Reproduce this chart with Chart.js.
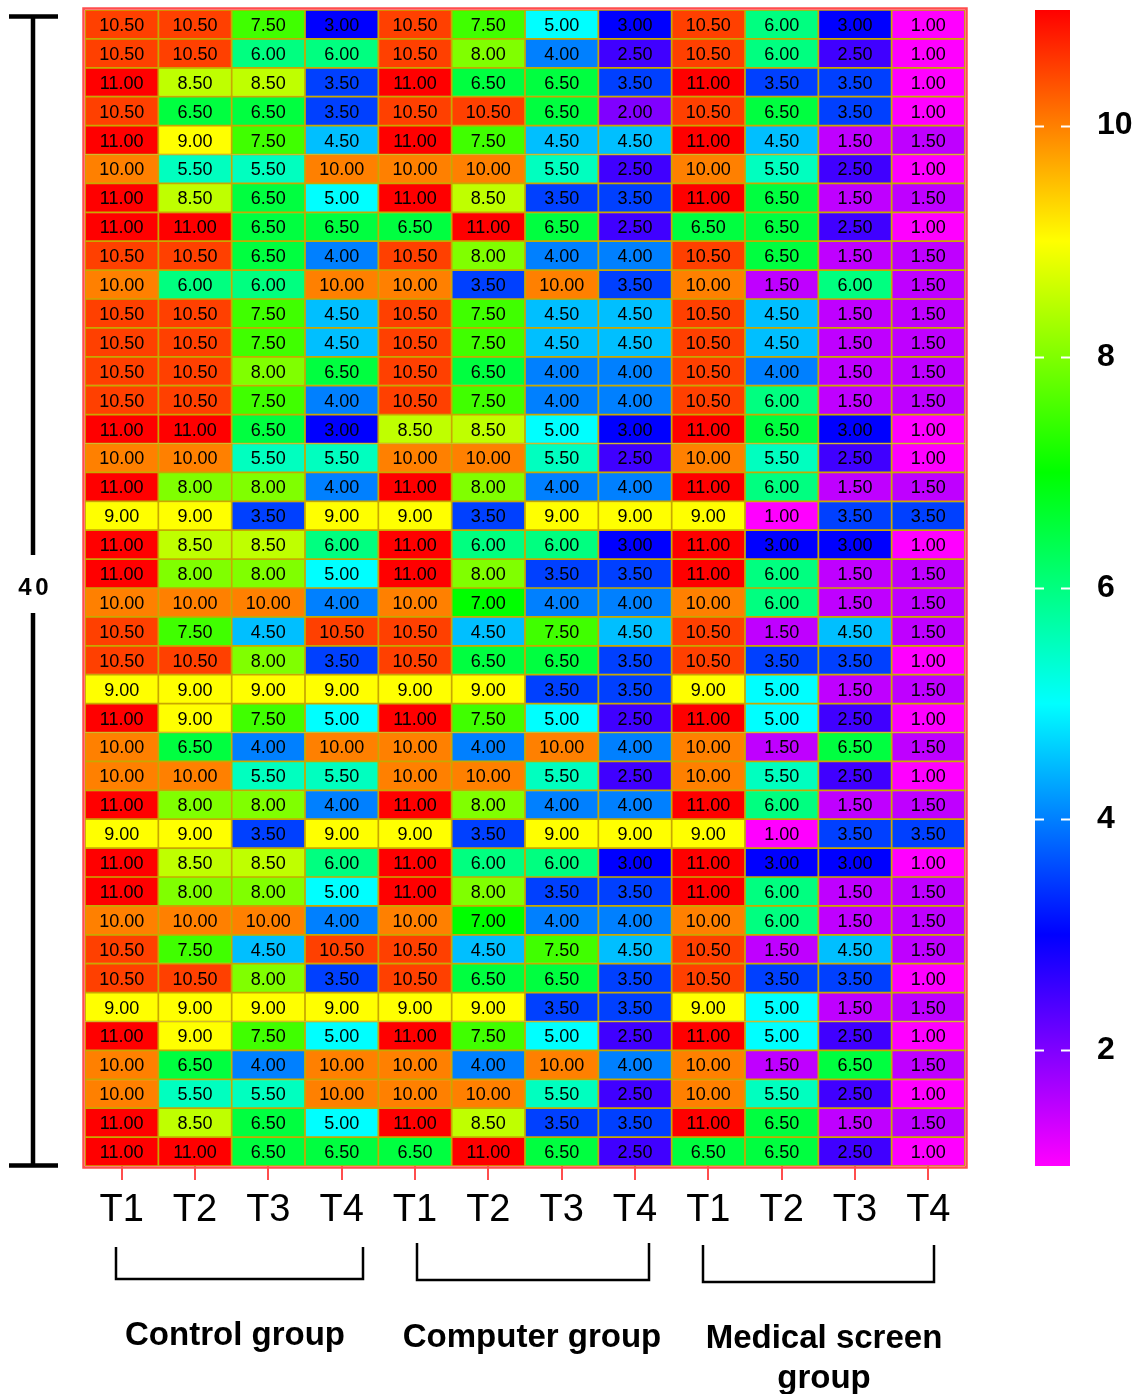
<!DOCTYPE html>
<html>
<head>
<meta charset="utf-8">
<script src="https://cdn.jsdelivr.net/npm/chart.js@4.4.1/dist/chart.umd.min.js"></script>
<style>
html, body { margin: 0; background: #fff; }
#wrap { width: 1135px; height: 1394px; position: relative; }
</style>
</head>
<body>
<div id="wrap"><canvas id="heatChart"></canvas></div>
<script>
var columns = ['T1', 'T2', 'T3', 'T4', 'T1', 'T2', 'T3', 'T4', 'T1', 'T2', 'T3', 'T4'];
var groups = ['Control group', 'Computer group', 'Medical screen group'];
var sampleLabel = '40';
var scaleTicks = [2, 4, 6, 8, 10];
var scaleMin = 1;
var scaleMax = 11;

// one row per subject, 12 cells (3 groups x T1..T4)
var rows = [
  [10.5, 10.5, 7.5, 3.0, 10.5, 7.5, 5.0, 3.0, 10.5, 6.0, 3.0, 1.0],
  [10.5, 10.5, 6.0, 6.0, 10.5, 8.0, 4.0, 2.5, 10.5, 6.0, 2.5, 1.0],
  [11.0, 8.5, 8.5, 3.5, 11.0, 6.5, 6.5, 3.5, 11.0, 3.5, 3.5, 1.0],
  [10.5, 6.5, 6.5, 3.5, 10.5, 10.5, 6.5, 2.0, 10.5, 6.5, 3.5, 1.0],
  [11.0, 9.0, 7.5, 4.5, 11.0, 7.5, 4.5, 4.5, 11.0, 4.5, 1.5, 1.5],
  [10.0, 5.5, 5.5, 10.0, 10.0, 10.0, 5.5, 2.5, 10.0, 5.5, 2.5, 1.0],
  [11.0, 8.5, 6.5, 5.0, 11.0, 8.5, 3.5, 3.5, 11.0, 6.5, 1.5, 1.5],
  [11.0, 11.0, 6.5, 6.5, 6.5, 11.0, 6.5, 2.5, 6.5, 6.5, 2.5, 1.0],
  [10.5, 10.5, 6.5, 4.0, 10.5, 8.0, 4.0, 4.0, 10.5, 6.5, 1.5, 1.5],
  [10.0, 6.0, 6.0, 10.0, 10.0, 3.5, 10.0, 3.5, 10.0, 1.5, 6.0, 1.5],
  [10.5, 10.5, 7.5, 4.5, 10.5, 7.5, 4.5, 4.5, 10.5, 4.5, 1.5, 1.5],
  [10.5, 10.5, 7.5, 4.5, 10.5, 7.5, 4.5, 4.5, 10.5, 4.5, 1.5, 1.5],
  [10.5, 10.5, 8.0, 6.5, 10.5, 6.5, 4.0, 4.0, 10.5, 4.0, 1.5, 1.5],
  [10.5, 10.5, 7.5, 4.0, 10.5, 7.5, 4.0, 4.0, 10.5, 6.0, 1.5, 1.5],
  [11.0, 11.0, 6.5, 3.0, 8.5, 8.5, 5.0, 3.0, 11.0, 6.5, 3.0, 1.0],
  [10.0, 10.0, 5.5, 5.5, 10.0, 10.0, 5.5, 2.5, 10.0, 5.5, 2.5, 1.0],
  [11.0, 8.0, 8.0, 4.0, 11.0, 8.0, 4.0, 4.0, 11.0, 6.0, 1.5, 1.5],
  [9.0, 9.0, 3.5, 9.0, 9.0, 3.5, 9.0, 9.0, 9.0, 1.0, 3.5, 3.5],
  [11.0, 8.5, 8.5, 6.0, 11.0, 6.0, 6.0, 3.0, 11.0, 3.0, 3.0, 1.0],
  [11.0, 8.0, 8.0, 5.0, 11.0, 8.0, 3.5, 3.5, 11.0, 6.0, 1.5, 1.5],
  [10.0, 10.0, 10.0, 4.0, 10.0, 7.0, 4.0, 4.0, 10.0, 6.0, 1.5, 1.5],
  [10.5, 7.5, 4.5, 10.5, 10.5, 4.5, 7.5, 4.5, 10.5, 1.5, 4.5, 1.5],
  [10.5, 10.5, 8.0, 3.5, 10.5, 6.5, 6.5, 3.5, 10.5, 3.5, 3.5, 1.0],
  [9.0, 9.0, 9.0, 9.0, 9.0, 9.0, 3.5, 3.5, 9.0, 5.0, 1.5, 1.5],
  [11.0, 9.0, 7.5, 5.0, 11.0, 7.5, 5.0, 2.5, 11.0, 5.0, 2.5, 1.0],
  [10.0, 6.5, 4.0, 10.0, 10.0, 4.0, 10.0, 4.0, 10.0, 1.5, 6.5, 1.5],
  [10.0, 10.0, 5.5, 5.5, 10.0, 10.0, 5.5, 2.5, 10.0, 5.5, 2.5, 1.0],
  [11.0, 8.0, 8.0, 4.0, 11.0, 8.0, 4.0, 4.0, 11.0, 6.0, 1.5, 1.5],
  [9.0, 9.0, 3.5, 9.0, 9.0, 3.5, 9.0, 9.0, 9.0, 1.0, 3.5, 3.5],
  [11.0, 8.5, 8.5, 6.0, 11.0, 6.0, 6.0, 3.0, 11.0, 3.0, 3.0, 1.0],
  [11.0, 8.0, 8.0, 5.0, 11.0, 8.0, 3.5, 3.5, 11.0, 6.0, 1.5, 1.5],
  [10.0, 10.0, 10.0, 4.0, 10.0, 7.0, 4.0, 4.0, 10.0, 6.0, 1.5, 1.5],
  [10.5, 7.5, 4.5, 10.5, 10.5, 4.5, 7.5, 4.5, 10.5, 1.5, 4.5, 1.5],
  [10.5, 10.5, 8.0, 3.5, 10.5, 6.5, 6.5, 3.5, 10.5, 3.5, 3.5, 1.0],
  [9.0, 9.0, 9.0, 9.0, 9.0, 9.0, 3.5, 3.5, 9.0, 5.0, 1.5, 1.5],
  [11.0, 9.0, 7.5, 5.0, 11.0, 7.5, 5.0, 2.5, 11.0, 5.0, 2.5, 1.0],
  [10.0, 6.5, 4.0, 10.0, 10.0, 4.0, 10.0, 4.0, 10.0, 1.5, 6.5, 1.5],
  [10.0, 5.5, 5.5, 10.0, 10.0, 10.0, 5.5, 2.5, 10.0, 5.5, 2.5, 1.0],
  [11.0, 8.5, 6.5, 5.0, 11.0, 8.5, 3.5, 3.5, 11.0, 6.5, 1.5, 1.5],
  [11.0, 11.0, 6.5, 6.5, 6.5, 11.0, 6.5, 2.5, 6.5, 6.5, 2.5, 1.0]
];

// rainbow: 11 = red ... 1 = magenta
function heatColor(v) {
  var hue = (scaleMax - v) / (scaleMax - scaleMin) * 300;
  return 'hsl(' + hue + ',100%,50%)';
}

var datasets = rows.map(function (r, i) {
  return {
    label: 'Row ' + (i + 1),
    data: r.map(function () { return [i, i + 1]; }),
    values: r,
    backgroundColor: r.map(heatColor),
    borderColor: '#c8a800',
    borderWidth: 1.2,
    borderSkipped: false,
    grouped: false,
    barPercentage: 1,
    categoryPercentage: 1
  };
});

var heatPlugin = {
  id: 'heatExtras',
  afterDatasetsDraw: function (chart) {
    var ctx = chart.ctx;
    var area = chart.chartArea;
    ctx.save();
    ctx.font = '18px "Liberation Sans", Arial, sans-serif';
    ctx.fillStyle = '#000';
    ctx.textAlign = 'center';
    ctx.textBaseline = 'middle';
    chart.data.datasets.forEach(function (ds, di) {
      chart.getDatasetMeta(di).data.forEach(function (bar, j) {
        var cy = (bar.y + bar.base) / 2;
        ctx.fillText(ds.values[j].toFixed(2), bar.x, cy + 1.5);
      });
    });
    // red frame, just outside the cells
    ctx.strokeStyle = '#ff4d4d';
    ctx.lineWidth = 2.5;
    ctx.strokeRect(area.left - 1.5, area.top - 1.5, area.right - area.left + 3, area.bottom - area.top + 3);

    // colour bar
    var cb = chart.scales.cb;
    var x0 = 1035, w = 35;
    var yTop = cb.getPixelForValue(scaleMax);
    var yBot = cb.getPixelForValue(scaleMin);
    var grad = ctx.createLinearGradient(0, yTop, 0, yBot);
    for (var v = scaleMin; v <= scaleMax; v++) {
      grad.addColorStop((scaleMax - v) / (scaleMax - scaleMin), heatColor(v));
    }
    ctx.fillStyle = grad;
    ctx.fillRect(x0, yTop, w, yBot - yTop);
    ctx.strokeStyle = '#fff';
    ctx.lineWidth = 2;
    scaleTicks.forEach(function (t) {
      var y = Math.round(cb.getPixelForValue(t)) + 0.5;
      ctx.beginPath();
      ctx.moveTo(x0, y); ctx.lineTo(x0 + 9, y);
      ctx.moveTo(x0 + w - 9, y); ctx.lineTo(x0 + w, y);
      ctx.stroke();
    });
    ctx.restore();
  },
  afterDraw: function (chart) {
    var ctx = chart.ctx;
    var area = chart.chartArea;
    ctx.save();
    ctx.strokeStyle = '#000';
    ctx.fillStyle = '#000';

    // left sample-size bracket
    var top = area.top + 6.5, bot = area.bottom - 0.5, mid = (area.top + area.bottom) / 2;
    ctx.lineWidth = 4.5;
    ctx.beginPath();
    ctx.moveTo(9, top); ctx.lineTo(58, top);
    ctx.moveTo(9, bot); ctx.lineTo(58, bot);
    ctx.moveTo(33, top); ctx.lineTo(33, mid - 33);
    ctx.moveTo(33, mid + 25); ctx.lineTo(33, bot);
    ctx.stroke();
    ctx.font = 'bold 24px "Liberation Sans", Arial, sans-serif';
    ctx.textAlign = 'center';
    ctx.textBaseline = 'alphabetic';
    ctx.fillText(sampleLabel[0], 25, mid + 7);
    ctx.fillText(sampleLabel[1], 42, mid + 7);

    // group brackets
    var brackets = [[116, 363, 1247, 1279], [417, 649, 1243, 1280], [703, 934, 1245, 1282]];
    ctx.lineWidth = 2.5;
    brackets.forEach(function (b) {
      ctx.beginPath();
      ctx.moveTo(b[0], b[2]); ctx.lineTo(b[0], b[3]);
      ctx.lineTo(b[1], b[3]); ctx.lineTo(b[1], b[2]);
      ctx.stroke();
    });

    ctx.font = 'bold 33px "Liberation Sans", Arial, sans-serif';
    ctx.fillText(groups[0], 235, 1345);
    ctx.fillText(groups[1], 532, 1347);
    var words = groups[2].split(' ');
    ctx.fillText(words[0] + ' ' + words[1], 824, 1348);
    ctx.fillText(words[2], 824, 1388);
    ctx.restore();
  }
};

new Chart(document.getElementById('heatChart'), {
  type: 'bar',
  data: { labels: columns, datasets: datasets },
  options: {
    responsive: true,
    maintainAspectRatio: false,
    animation: false,
    layout: { padding: { left: 85, top: 10, right: 0, bottom: 0 } },
    plugins: { legend: { display: false }, tooltip: { enabled: false } },
    scales: {
      x: {
        grid: { offset: false, drawOnChartArea: false, drawTicks: true, tickLength: 14, color: '#ff4d4d', lineWidth: 2 },
        border: { display: false },
        ticks: { color: '#000', padding: 8, font: { size: 38, family: '"Liberation Sans", Arial, sans-serif' } },
        afterFit: function (s) { s.height = 228; }
      },
      y: {
        display: false,
        min: 0,
        max: rows.length,
        reverse: true
      },
      cb: {
        type: 'linear',
        position: 'right',
        min: scaleMin,
        max: scaleMax,
        grid: { display: false, drawTicks: false },
        border: { display: false },
        afterBuildTicks: function (s) { s.ticks = scaleTicks.map(function (v) { return { value: v }; }); },
        ticks: { color: '#000', padding: 132, font: { size: 32, weight: 'bold', family: '"Liberation Sans", Arial, sans-serif' } },
        afterFit: function (s) { s.width = 170; s.paddingTop = 0; s.paddingBottom = 0; }
      }
    }
  },
  plugins: [heatPlugin]
});
</script>
</body>
</html>
